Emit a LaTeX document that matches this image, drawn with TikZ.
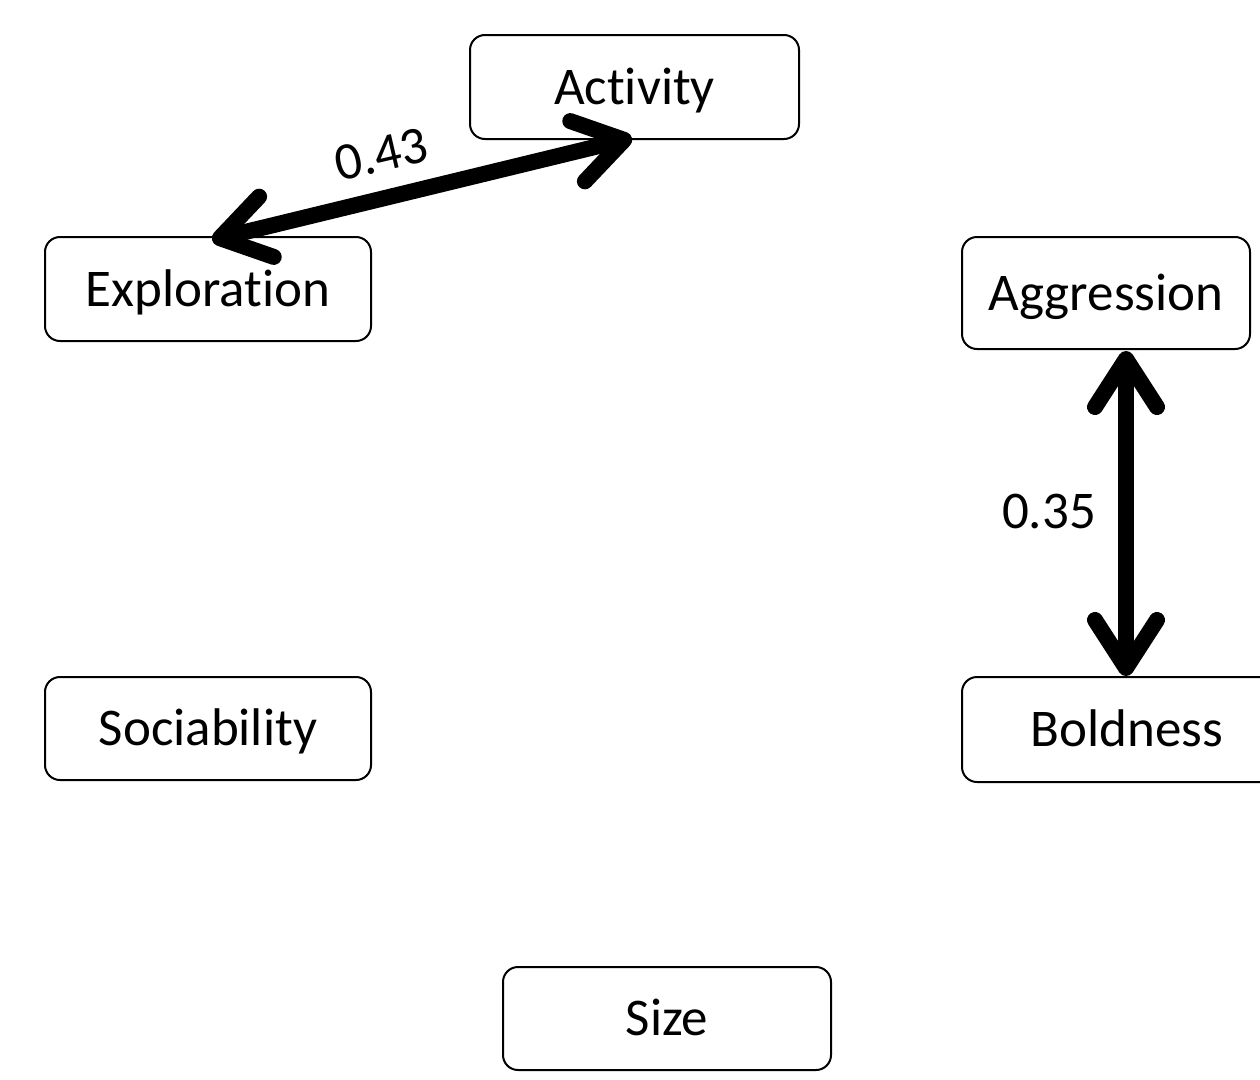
\documentclass[tikz,border=0pt]{standalone}
\usepackage{fontspec}
\setmainfont{Carlito}[Ligatures=NoCommon,RawFeature={-liga;-dlig;-clig}]
\usetikzlibrary{arrows.meta}
\begin{document}
\begin{tikzpicture}[x=1pt,y=-1pt,
  box/.style={draw=black, line width=2pt, rounded corners=15pt, inner sep=0pt,
    font=\fontsize{53}{60}\selectfont, text height=34pt, text depth=0pt, anchor=center},
  link/.style={line width=16pt, {Straight Barb[length=48pt,width=62pt,round]}-{Straight Barb[length=48pt,width=62pt,round]}},
  lbl/.style={font=\fontsize{53}{60}\selectfont, inner sep=0pt}]
\useasboundingbox (0,0) rectangle (1260,1079);
\node[box, minimum width=329pt, minimum height=104pt] (act) at (634.5,87) {Activity};
\node[box, minimum width=326pt, minimum height=104pt] (exp) at (208,289) {Exploration};
\node[box, minimum width=288pt, minimum height=112pt] (agg) at (1106,293) {Aggression};
\node[box, minimum width=326pt, minimum height=103pt] (soc) at (208,728.5) {Sociability};
\node[box, minimum width=330pt, minimum height=105pt] (bol) at (1127,729.5) {Boldness};
\node[box, minimum width=328pt, minimum height=103pt] (siz) at (667,1018.5) {Size};
\coordinate (e1) at (212,240);
\coordinate (a1) at (632,138);
\draw[link] (e1) -- (a1);
\coordinate (g1) at (1126,351);
\coordinate (b1) at (1126,676);
\draw[link] (g1) -- (b1);
\node[lbl, rotate=13] (l43) at (381,154) {0.43};
\node[lbl] (l35) at (1049,512) {0.35};
\end{tikzpicture}
\end{document}
